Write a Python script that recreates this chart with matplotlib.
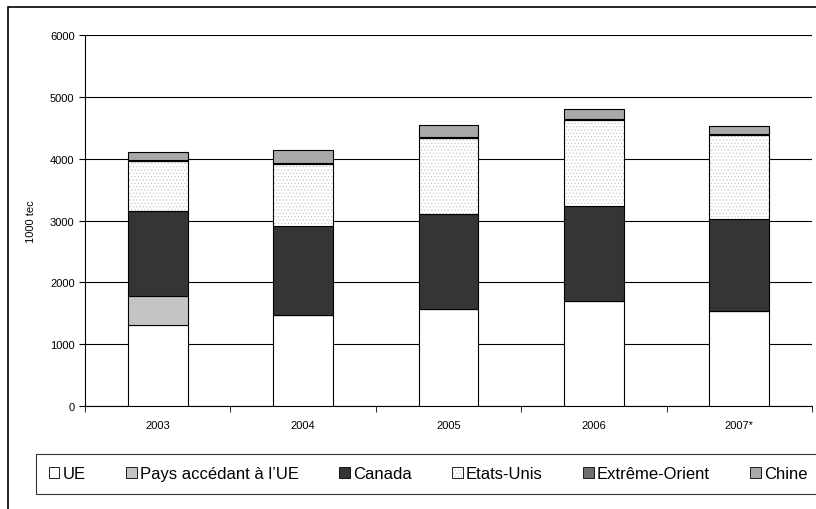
import numpy as np
import matplotlib
matplotlib.use('Agg')
import matplotlib.pyplot as plt
from matplotlib.patches import Rectangle

plt.rcParams['font.family'] = ['Liberation Sans', 'DejaVu Sans']
plt.rcParams['hatch.linewidth'] = 0.5

# data (1000 tec)
years = ['2003', '2004', '2005', '2006', '2007*']
ue = [1310, 1470, 1570, 1700, 1540]
pays_acc = [470, 0, 0, 0, 0]
canada = [1375, 1440, 1535, 1535, 1485]
etats_unis = [800, 1000, 1230, 1390, 1355]
extreme_orient = [25, 20, 15, 15, 15]
chine = [130, 210, 195, 160, 135]

series = [ue, pays_acc, canada, etats_unis, extreme_orient, chine]
names = ['UE', "Pays accédant à l’UE", 'Canada', 'Etats-Unis', 'Extrême-Orient', 'Chine']
faces = ['white', '#c4c4c4', '#353535', 'white', '#6e6e6e', '#a9a9a9']
hatches = [None, None, None, '.....', None, None]
hcolors = ['black', 'black', 'black', '#c8c8c8', 'black', 'black']

fig = plt.figure(figsize=(8.16, 5.10), dpi=100)
ax = fig.add_axes([85/816, 1-407/510, 727/816, 371/510])

x = np.arange(len(years))
bottom = np.zeros(len(years))
for vals, nm, fc, h, hc in zip(series, names, faces, hatches, hcolors):
    vals = np.array(vals, dtype=float)
    bars = ax.bar(x, vals, 0.41, bottom=bottom, color=fc, edgecolor='black',
                  linewidth=0.8, label=nm, zorder=3)
    if h:
        for b in bars:
            b.set_hatch(h)
            b._hatch_color = matplotlib.colors.to_rgba(hc)
    bottom += vals

ax.set_ylim(0, 6000)
ax.set_xlim(-0.5, len(years)-0.5)
ax.set_yticks(np.arange(0, 6001, 1000))
ax.yaxis.grid(True, color='black', linewidth=0.8, zorder=0)
ax.set_axisbelow(True)
ax.set_xticks(x)
ax.set_xticklabels(years, fontsize=8)
ax.set_xticks(np.arange(-0.5, len(years), 1), minor=True)
ax.tick_params(axis='x', which='major', length=0, pad=10)
ax.tick_params(axis='x', which='minor', length=4, direction='out')
ax.tick_params(axis='y', labelsize=8, length=4, direction='out')
ax.set_ylabel('1000 tec', fontsize=8, labelpad=10)
for s in ['top', 'right']:
    ax.spines[s].set_visible(False)

leg = fig.legend(loc='lower left', bbox_to_anchor=(36/816, 15/510), ncol=6,
                 frameon=True, fancybox=False, edgecolor='black', fontsize=12,
                 handlelength=0.65, handleheight=0.65, handletextpad=0.2,
                 columnspacing=2.4, borderpad=0.75, borderaxespad=0)
leg.get_frame().set_linewidth(0.8)
for p in leg.get_patches():
    p.set_linewidth(0.6)

fig.add_artist(Rectangle((8/816, -0.1), 2.0, 1.0 - 8/510 + 0.1, transform=fig.transFigure,
                         fill=False, edgecolor='black', linewidth=1.2))

fig.savefig('out.png', dpi=100)
